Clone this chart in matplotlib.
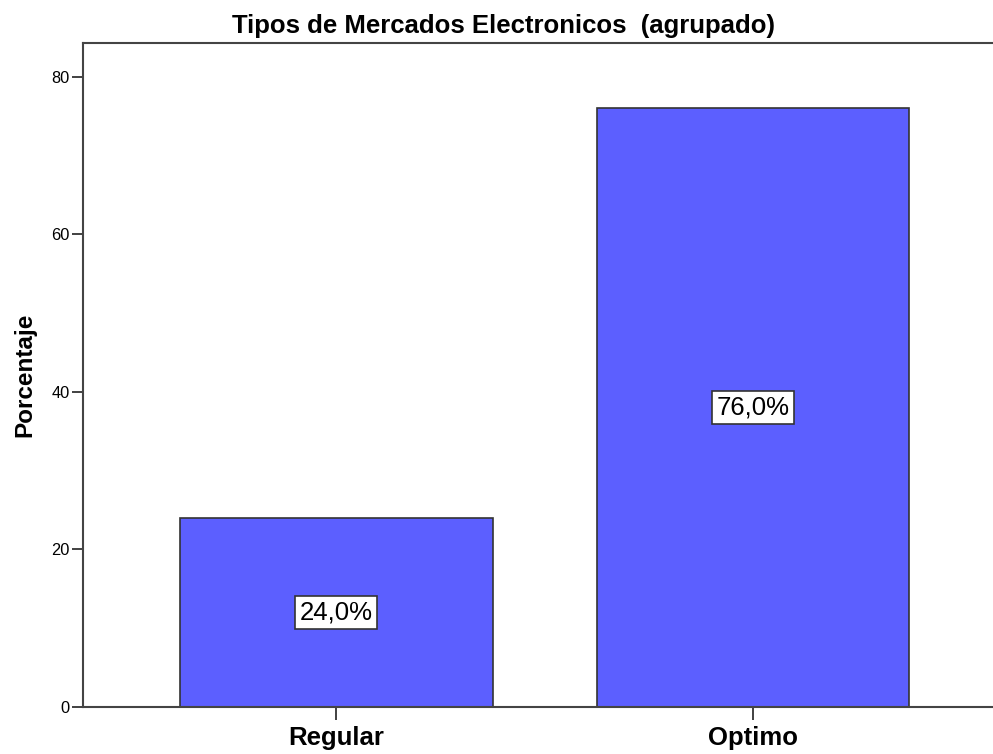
import matplotlib
matplotlib.use("Agg")
import matplotlib.pyplot as plt

categories = ["Regular", "Optimo"]
percentages = [24.0, 76.0]
labels = ["24,0%", "76,0%"]
yticks = [0, 20, 40, 60, 80]

plt.rcParams['font.family'] = ['Liberation Sans', 'DejaVu Sans']

fig = plt.figure(figsize=(9.93, 7.54), dpi=100)
ax_w = 1 - 83/993 + 0.01
ax = fig.add_axes([83/993, 47/754, ax_w, (707-43)/754])

x = list(range(len(categories)))
ax.bar(x, percentages, width=0.75, color="#5C5FFF", edgecolor="#333333", linewidth=1.2, zorder=2)

for xi, v, lab in zip(x, percentages, labels):
    ax.text(xi, v / 2, lab, ha="center", va="center", fontsize=18.5, color="black",
            bbox=dict(boxstyle="square,pad=0.18", facecolor="white", edgecolor="#333333", linewidth=1.2),
            zorder=3)

ax.set_xlim(-0.608, 1.6)
ax.set_ylim(0, 84.3)
ax.set_xticks(x)
ax.set_xticklabels(categories, fontsize=18.5, fontweight="bold")
ax.set_yticks(yticks)
ax.set_yticklabels([str(t) for t in yticks], fontsize=11.8)
ax.tick_params(axis="x", length=9, width=1.3, color="#333333", pad=5)
ax.tick_params(axis="y", length=8, width=1.3, color="#333333", pad=1.5)

for s in ["left", "bottom", "top"]:
    ax.spines[s].set_color("#444444")
    ax.spines[s].set_linewidth(1.5)
ax.spines["right"].set_visible(False)

ax.set_ylabel("Porcentaje", fontsize=17.5, fontweight="bold", labelpad=11)
title_x = (503 - 83) / (ax_w * 993)
ax.set_title("Tipos de Mercados Electronicos  (agrupado)", fontsize=18.5, fontweight="bold", pad=7, x=title_x)

fig.savefig("out.png", dpi=100)
